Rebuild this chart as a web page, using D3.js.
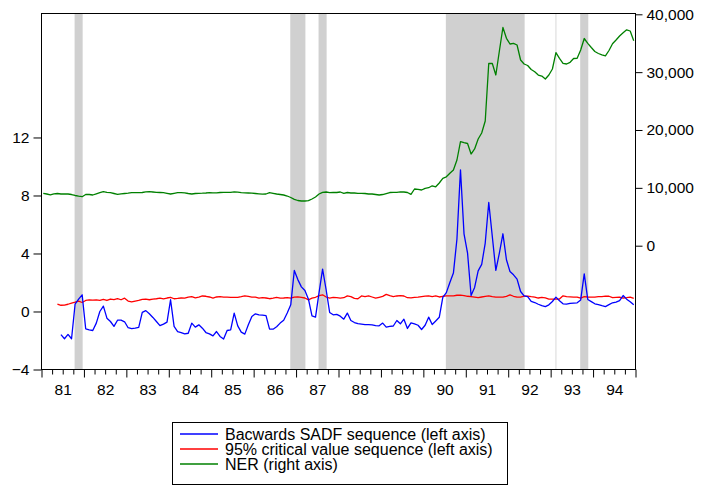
<!DOCTYPE html>
<html><head><meta charset="utf-8">
<script src="https://cdn.jsdelivr.net/npm/d3@7"></script>
<style>
body{margin:0;background:#fff}
text{font-family:"Liberation Sans",Arial,sans-serif}
</style>
</head><body>
<svg id="c" width="701" height="489"></svg>
<script>
// ---------- data ----------
const firstMonth = new Date(1981, 0, 1);
const lastMonth = new Date(1994, 11, 1);
const months = d3.timeMonth.range(firstMonth, d3.timeMonth.offset(lastMonth, 1));

const sadf = [null,null,null,null,null,
-1.6,-1.88,-1.58,-1.88,0.5,0.85,1.15,
-1.19,-1.26,-1.31,-0.8,0.0,0.37,-0.46,-0.69,-1.03,-0.6,-0.6,-0.71,
-1.12,-1.18,-1.15,-1.1,-0.06,0.06,-0.16,-0.41,-0.69,-0.97,-0.87,-0.73,
0.81,-1.03,-1.38,-1.45,-1.54,-1.5,-0.8,-1.08,-0.92,-1.15,-1.45,-1.54,
-1.68,-1.38,-1.72,-1.9,-1.31,-1.26,-0.11,-0.99,-1.42,-1.56,-0.92,-0.34,
-0.16,-0.23,-0.25,-0.28,-1.22,-1.22,-1.05,-0.8,-0.6,-0.1,0.46,2.83,
2.2,1.7,1.45,0.85,-0.3,-0.39,1.3,2.92,1.5,-0.07,-0.23,-0.2,
-0.32,-0.53,-0.11,-0.62,-0.76,-0.84,-0.87,-0.9,-0.91,-0.92,-0.98,-0.99,
-0.8,-1.08,-1.03,-1.0,-0.62,-0.85,-0.53,-1.17,-0.78,-0.85,-0.95,-1.24,
-0.95,-0.39,-0.9,-0.65,-0.4,0.97,1.3,2.0,2.65,5.0,9.77,5.36,
4.03,1.1,1.66,2.8,3.25,4.72,7.52,5.17,2.83,4.03,5.36,3.57,
2.76,2.53,2.23,1.38,1.08,1.03,0.69,0.62,0.5,0.41,0.34,0.46,
0.69,0.99,0.74,0.53,0.51,0.56,0.58,0.6,0.8,2.6,0.83,0.68,
0.53,0.47,0.4,0.34,0.47,0.6,0.65,0.75,1.1,0.85,0.67,0.46];

const critical = [null,null,null,null,
0.51,0.43,0.44,0.5,0.58,0.64,0.72,0.62,
0.76,0.8,0.79,0.8,0.77,0.84,0.76,0.86,0.82,0.88,0.81,0.92,
0.72,0.66,0.72,0.76,0.84,0.86,0.81,0.86,0.88,0.92,0.87,0.93,
0.97,0.88,0.9,0.93,0.92,0.99,1.02,0.94,0.99,1.07,1.05,1.0,
0.93,1.0,1.02,0.99,0.99,0.98,0.97,0.97,1.02,1.08,1.04,0.99,
0.99,0.92,0.95,0.93,0.88,0.92,0.97,0.92,0.93,0.96,0.92,0.99,
1.01,0.98,0.93,0.8,0.92,0.98,1.1,1.15,1.0,0.92,0.97,0.96,
0.92,0.95,1.08,1.03,0.9,0.88,1.07,1.03,1.08,1.0,0.92,0.98,
1.04,1.18,1.09,1.03,1.07,1.1,1.07,0.95,0.94,0.97,0.99,1.03,
1.06,1.07,1.03,1.07,1.0,1.05,1.08,1.08,1.08,1.12,1.13,1.1,
1.05,1.03,0.99,0.95,1.0,1.04,1.08,1.02,0.99,0.99,0.99,1.04,
1.15,1.05,0.99,0.99,1.06,1.06,1.02,0.99,0.93,0.97,0.94,0.86,
0.86,0.86,0.86,1.08,1.03,1.01,0.99,0.99,0.92,1.02,1.0,0.99,
0.99,1.02,1.03,1.06,1.05,0.95,0.97,0.99,0.93,0.95,0.99,0.9];

const ner = [
9058,8937,8799,8971,9023,8937,8937,8937,8850,8678,8557,8470,
8850,8850,8764,8971,9162,9334,9231,9162,9023,8885,8971,9023,
9075,9162,9162,9162,9196,9317,9334,9283,9231,9196,9162,9058,
8937,9058,9162,9162,9144,9023,8937,9023,9058,9075,9110,9162,
9144,9144,9196,9231,9231,9231,9317,9248,9162,9144,9110,9075,
9023,8971,8920,8937,9162,9058,8937,8850,8764,8591,8332,8021,
7813,7727,7727,7779,8073,8418,8937,9231,9283,9162,9196,9196,
9283,9058,9196,9110,9110,9058,9058,9023,8937,8937,8850,8764,
8850,9023,9196,9231,9231,9317,9283,9196,8885,9801,9749,9628,
9922,10026,10354,10182,10838,11651,11910,12515,13086,14814,17978,17805,
17666,15851,16716,18444,19481,21556,31530,31495,29507,33656,37718,35851,
34866,34987,34693,32100,31409,31150,30458,30078,29507,29334,28816,29507,
30545,33362,32394,31530,31409,31703,32360,32394,33829,35817,34987,34261,
33570,33224,32999,32826,33742,34901,35557,36249,36819,37321,37113,35436];

const leftTicks = [-4, 0, 4, 8, 12];
const rightTicks = [0, 10000, 20000, 30000, 40000];
const yearLabels = ["81","82","83","84","85","86","87","88","89","90","91","92","93","94"];
const shadePeriods = [
  ["1981-10","1981-12"],["1986-11","1987-03"],["1987-07","1987-09"],
  ["1990-07","1992-05"],["1993-02","1993-02"],["1993-09","1993-11"]];
const seriesNames = ["Bacwards SADF sequence (left axis)",
  "95% critical value sequence (left axis)", "NER (right axis)"];
const seriesColors = ["#0000ff", "#ff0000", "#008000"];

// ---------- layout ----------
const L = 41.5, R = 635.5, T = 13.5, B = 369.5;
const svg = d3.select("#c");
const nM = months.length;
const x = d3.scaleLinear().domain([0, nM]).range([L, R]);
const yL = d3.scaleLinear().domain([-4, 20.55]).range([B, T]);
const yR = d3.scaleLinear().domain([-21400, 40138]).range([B, T]);
const parse = d3.timeParse("%Y-%m");
const mIndex = s => d3.timeMonth.count(firstMonth, parse(s));
const xc = i => x(i + 0.5);

// shading
svg.append("g").selectAll("rect").data(shadePeriods).join("rect")
  .attr("x", d => xc(mIndex(d[0])) - 0.5)
  .attr("y", T)
  .attr("width", d => Math.max(1, xc(mIndex(d[1])) - xc(mIndex(d[0])) + 1))
  .attr("height", B - T)
  .attr("fill", d => d[0] === d[1] ? "#d8d8d8" : "#d0d0d0");

// lines
function drawLine(vals, y, color) {
  const line = d3.line().defined(d => d != null).x((d, i) => xc(i)).y(d => y(d));
  svg.append("path").datum(vals).attr("d", line)
    .attr("fill", "none").attr("stroke", color).attr("stroke-width", 1.3)
    .attr("stroke-linejoin", "round");
}
drawLine(ner, yR, seriesColors[2]);
drawLine(critical, yL, seriesColors[1]);
drawLine(sadf, yL, seriesColors[0]);

// frame
svg.append("rect").attr("x", L).attr("y", T).attr("width", R - L).attr("height", B - T)
  .attr("fill", "none").attr("stroke", "#000").attr("stroke-width", 1);

// axes
const fs = "15.5px";
const quarters = d3.range(0, nM + 1, 3).filter(q => q % 12 !== 0);
const years = d3.range(0, nM + 1, 12);
const mids = yearLabels.map((_, k) => k * 12 + 6);

function styleAxis(g) {
  g.select(".domain").remove();
  g.selectAll("line").attr("stroke", "#000");
  g.selectAll("text").attr("fill", "#000").style("font-size", fs);
}
svg.append("g").attr("transform", `translate(0,${B})`)
  .call(d3.axisBottom(x).tickValues(quarters).tickSize(5).tickFormat(""))
  .call(styleAxis);
svg.append("g").attr("transform", `translate(0,${B})`)
  .call(d3.axisBottom(x).tickValues(years).tickSize(8).tickFormat(""))
  .call(styleAxis);
svg.append("g").attr("transform", `translate(0,${B})`)
  .call(d3.axisBottom(x).tickValues(mids).tickSize(0).tickPadding(14)
    .tickFormat((d, i) => yearLabels[i]))
  .call(styleAxis);
svg.append("g").attr("transform", `translate(${L},0)`)
  .call(d3.axisLeft(yL).tickValues(leftTicks).tickSize(8).tickPadding(4).tickFormat(d3.format("d")))
  .call(styleAxis);
svg.append("g").attr("transform", `translate(${R},0)`)
  .call(d3.axisRight(yR).tickValues(rightTicks).tickSize(7).tickPadding(4).tickFormat(d3.format(",")))
  .call(styleAxis);

// legend
const lg = svg.append("g");
lg.append("rect").attr("x", 172.5).attr("y", 422.5).attr("width", 335).attr("height", 62)
  .attr("fill", "#fff").attr("stroke", "#000").attr("stroke-width", 1);
seriesNames.forEach((name, i) => {
  const yy = 434 + i * 15;
  lg.append("line").attr("x1", 180).attr("x2", 218).attr("y1", yy).attr("y2", yy)
    .attr("stroke", seriesColors[i]).attr("stroke-width", 1.3);
  lg.append("text").attr("x", 225).attr("y", yy + 5.5).text(name)
    .style("font-size", "16px").attr("fill", "#000");
});
</script>
</body></html>
